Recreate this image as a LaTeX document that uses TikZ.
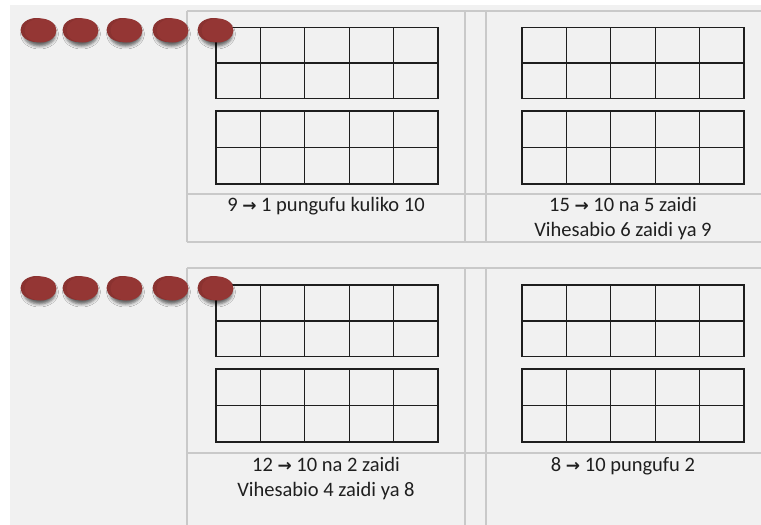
\documentclass[tikz,border=0pt]{standalone}
\usepackage{fontspec}
\setmainfont{Carlito}
\newfontfamily\arrowfont{DejaVu Sans}[BoldFont=* Bold]
\usetikzlibrary{shadows.blur}
\definecolor{bgc}{HTML}{F1F1F1}
\definecolor{tabline}{HTML}{C9C9C9}
\definecolor{gridline}{HTML}{1E1E1E}
\definecolor{dotred}{HTML}{943634}
\definecolor{dotdark}{HTML}{8A3230}
\newcommand{\arr}{{\arrowfont\bfseries\fontsize{17}{20}\selectfont →}}
\tikzset{
  tabrule/.style={draw=tabline, line width=1.4pt},
  gridrule/.style={draw=gridline, line width=1.3pt},
  lbl/.style={font=\fontsize{20.5}{25}\selectfont, text=black!88, align=center, inner sep=0pt},
  dotback/.style={fill=dotdark, draw=none, blur shadow={shadow xshift=3pt, shadow yshift=-4pt, shadow blur radius=3pt, shadow opacity=60}},
  dotfront/.style={fill=dotred, draw=none},
}
\newcommand{\tenframe}[3]{% x, y top, height of each block
  \draw[gridrule] (#1,#2) rectangle ++(222,#3);
  \draw[gridrule] (#1,#2+#3/2) -- ++(222,0);
  \foreach \k in {1,...,4} {\draw[gridrule] (#1+44.4*\k,#2) -- ++(0,#3);}
}
\newcommand{\reddot}[2]{%
  \fill[dotback] (#1-2.5,#2) ellipse [x radius=16, y radius=12];
  \fill[dotfront] (#1+1.5,#2+0.5) ellipse [x radius=16, y radius=12];
}
\begin{document}
\begin{tikzpicture}[x=1pt,y=-1pt]
\useasboundingbox (0,0) rectangle (761,525);
\fill[white] (0,0) rectangle (761,525);
\fill[bgc] (10,5) rectangle (761,525);
% table 1
\draw[tabrule] (187,11) -- (761,11);
\draw[tabrule] (187,194) -- (761,194);
\draw[tabrule] (187,242) -- (761,242);
\draw[tabrule] (187,11) -- (187,242);
\draw[tabrule] (465,11) -- (465,242);
\draw[tabrule] (486,11) -- (486,242);
% table 2
\draw[tabrule] (187,268) -- (761,268);
\draw[tabrule] (187,453) -- (761,453);
\draw[tabrule] (187,268) -- (187,525);
\draw[tabrule] (465,268) -- (465,525);
\draw[tabrule] (486,268) -- (486,525);
% ten frames
\tenframe{216}{27.3}{71.5}
\tenframe{216}{111}{73}
\tenframe{522}{27.3}{71.5}
\tenframe{522}{111}{73}
\tenframe{216}{285}{71.7}
\tenframe{216}{369}{73}
\tenframe{522}{285}{71.7}
\tenframe{522}{369}{73}
% dots
\foreach \cx in {39,81,125,171,216} {\reddot{\cx}{30}}
\foreach \cx in {39,81,125,171,216} {\reddot{\cx}{288}}
% labels
\node[lbl] (t1) at (326,206) {9 \arr{} 1 pungufu kuliko 10};
\node[lbl] (t2) at (623,218.5) {15 \arr{} 10 na 5 zaidi\\Vihesabio 6 zaidi ya 9};
\node[lbl] (t3) at (326,478.5) {12 \arr{} 10 na 2 zaidi\\Vihesabio 4 zaidi ya 8};
\node[lbl] (t4) at (623,466) {8 \arr{} 10 pungufu 2};
\end{tikzpicture}
\end{document}
